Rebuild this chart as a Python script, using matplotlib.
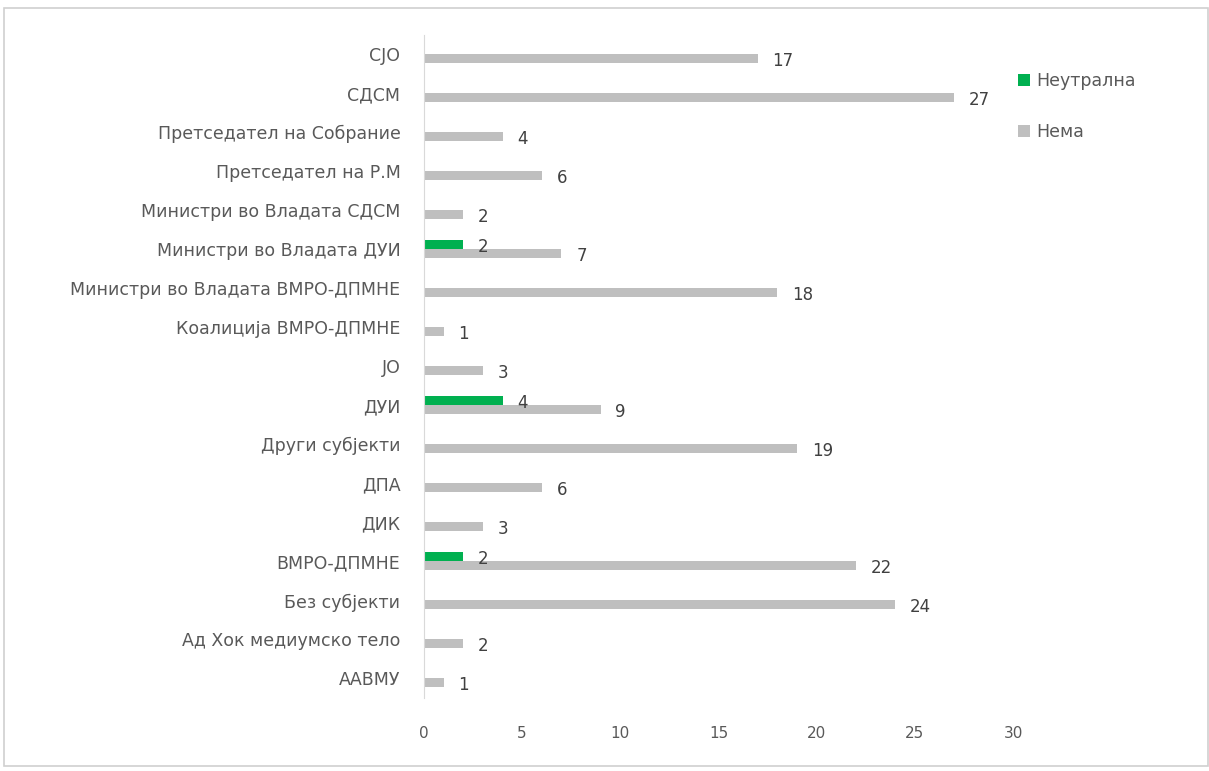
import matplotlib.pyplot as plt
import numpy as np
from matplotlib.patches import Rectangle

plt.rcParams["font.family"] = ["DejaVu Sans"]

categories = ["ААВМУ", "Ад Хок медиумско тело", "Без субјекти", "ВМРО-ДПМНЕ", "ДИК", "ДПА",
              "Други субјекти", "ДУИ", "ЈО", "Коалиција ВМРО-ДПМНЕ",
              "Министри во Владата ВМРО-ДПМНЕ", "Министри во Владата ДУИ",
              "Министри во Владата СДСМ", "Претседател на Р.М", "Претседател на Собрание",
              "СДСМ", "СЈО"]
neutralna = [0, 0, 0, 2, 0, 0, 0, 4, 0, 0, 0, 2, 0, 0, 0, 0, 0]
nema = [1, 2, 24, 22, 3, 6, 19, 9, 3, 1, 18, 7, 2, 6, 4, 27, 17]

GREEN = "#00B050"
GRAY = "#BFBFBF"
TXT = "#595959"

fig = plt.figure(figsize=(12.09, 7.71), dpi=100)
ax = fig.add_axes([0.3507, 0.0947, 0.4872, 0.8603])

y = np.arange(len(categories))
h = 0.23
b1 = ax.barh(y + h / 2, neutralna, height=h, color=GREEN, label="Неутрална")
b2 = ax.barh(y - h / 2, nema, height=h, color=GRAY, label="Нема")

for bars, vals in ((b1, neutralna), (b2, nema)):
    for r, v in zip(bars, vals):
        if v:
            ax.text(r.get_width() + 0.75, r.get_y() + r.get_height() / 2 - 0.05, str(v),
                    ha="left", va="center", fontsize=12, color="#404040")

ax.set_xlim(0, 30)
ax.set_ylim(-0.5, len(categories) - 0.5)
ax.set_xticks(range(0, 31, 5))
ax.set_yticks(y)
ax.set_yticklabels(categories, fontsize=12.5, color=TXT)
ax.tick_params(axis="x", labelsize=11, colors=TXT, length=0, pad=20)
ax.tick_params(axis="y", length=0, pad=17)
for s in ("top", "right", "bottom"):
    ax.spines[s].set_visible(False)
ax.spines["left"].set_color("#D9D9D9")

fig.legend(handles=[b1, b2], loc="upper left", bbox_to_anchor=(0.829, 0.927), frameon=False,
           fontsize=12.5, labelcolor=TXT, handlelength=0.7, handleheight=0.7,
           handletextpad=0.35, labelspacing=1.9)

fig.patches.append(Rectangle((0.003, 0.007), 0.996, 0.983, transform=fig.transFigure,
                             fill=False, edgecolor="#D0D0D0", linewidth=1.2))

fig.savefig("out.png", dpi=100)
